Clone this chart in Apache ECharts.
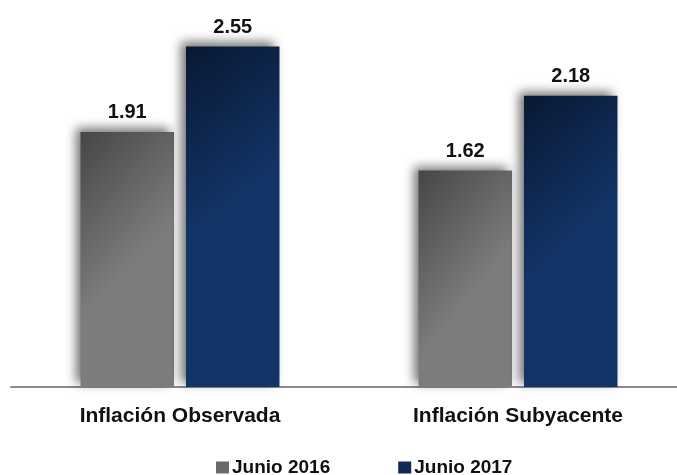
<!DOCTYPE html>
<html>
<head>
<meta charset="utf-8">
<script src="https://cdn.jsdelivr.net/npm/echarts@6/dist/echarts.min.js"></script>
<style>
html,body{margin:0;padding:0;background:#fff;}
#c{width:677px;height:475px;}
</style>
</head>
<body>
<div id="c"></div>
<script>
const categories = ['Inflación Observada', 'Inflación Subyacente'];
const seriesNames = ['Junio 2016', 'Junio 2017'];
const junio2016 = [1.91, 1.62];
const junio2017 = [2.55, 2.18];

const FONT = '"Liberation Sans", Arial, sans-serif';
const chart = echarts.init(document.getElementById('c'), null, {renderer: 'canvas'});

function grad(c0, c1) {
  return new echarts.graphic.LinearGradient(0, 0, 1, 0.35, [
    {offset: 0, color: c0}, {offset: 1, color: c1}
  ]);
}
const common = {
  type: 'bar',
  barWidth: 93.5,
  barGap: '12.8%',
  label: {
    show: true, position: 'top', distance: 9,
    fontFamily: FONT, fontWeight: 'bold', fontSize: 20, color: '#111',
    formatter: p => p.value.toFixed(2)
  }
};
chart.setOption({
  animation: false,
  grid: {left: 11, width: 676, top: 13, bottom: 88, containLabel: false, outerBoundsMode: 'none'},
  legend: {
    data: [
      {name: seriesNames[0], itemStyle: {color: '#6a6a6a'}},
      {name: seriesNames[1], itemStyle: {color: '#0f2a55'}}
    ],
    left: 211, top: 453,
    itemWidth: 13, itemHeight: 12, itemGap: 68,
    icon: 'rect',
    textStyle: {fontFamily: FONT, fontWeight: 'bold', fontSize: 19, color: '#111', padding: [0, 0, 0, -2]}
  },
  xAxis: {
    type: 'category', data: categories,
    axisLine: {lineStyle: {color: '#8a8a8a', width: 2}},
    axisTick: {show: false},
    axisLabel: {fontFamily: FONT, fontWeight: 'bold', fontSize: 21, color: '#111', margin: 19}
  },
  yAxis: {
    type: 'value', min: 0, max: 2.8, show: false,
    splitLine: {show: false}
  },
  series: [
    Object.assign({}, common, {
      name: seriesNames[0], data: junio2016,
      itemStyle: {color: grad('#464646', '#7c7c7c'), shadowColor: 'rgba(0,0,0,0.55)', shadowBlur: 10, shadowOffsetX: -5, shadowOffsetY: -4}
    }),
    Object.assign({}, common, {
      name: seriesNames[1], data: junio2017,
      itemStyle: {color: grad('#081833', '#133466'), shadowColor: 'rgba(0,0,0,0.55)', shadowBlur: 10, shadowOffsetX: -5, shadowOffsetY: -4}
    })
  ]
});
</script>
</body>
</html>
